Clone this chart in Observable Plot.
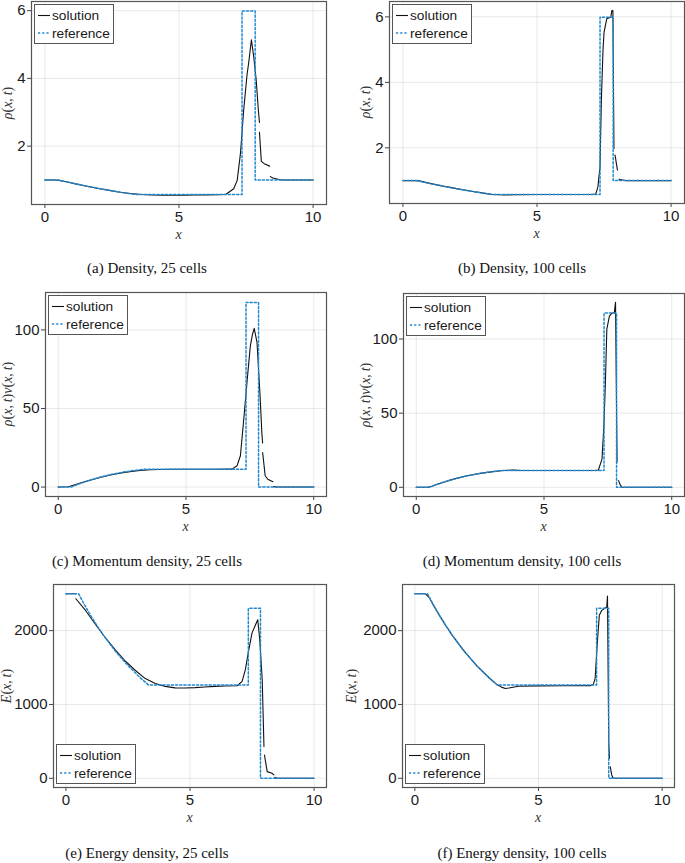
<!DOCTYPE html>
<html><head><meta charset="utf-8">
<script src="https://cdn.jsdelivr.net/npm/d3@7"></script>
<script src="https://cdn.jsdelivr.net/npm/@observablehq/plot@0.6"></script>
<style>
body{margin:0;background:#fff}
#root{position:relative;width:685px;height:863px;overflow:hidden}
.abs{position:absolute}
.math{font-family:"Liberation Serif","DejaVu Serif",serif;font-size:14px;color:#333;white-space:nowrap}
.math i{font-style:italic}
.ylab{transform:translate(-50%,-50%) rotate(-90deg)}
.xlab{transform:translate(-50%,-50%)}
.cap{font-family:"Liberation Serif","Times New Roman",serif;font-size:15px;color:#111;white-space:nowrap;transform:translate(-50%,-50%)}
</style>
</head><body><div id="root"></div>
<script>
// ---- shared axes ----
const xTicks = [0, 5, 10];
const xDomain = [-0.5, 10.5];
const rhoTicks = [2, 4, 6];
const momTicks = [0, 50, 100];
const eTicks = [0, 1000, 2000];

// ---- reference (exact) solution ----
const refX   = [0, 0.51, 0.75, 1.0, 1.25, 1.5, 2.0, 2.5, 3.0, 3.33, 7.35, 7.35, 7.84, 7.84, 10];
const refRho = [1, 1, 0.956, 0.912, 0.870, 0.829, 0.753, 0.681, 0.616, 0.575, 0.575, 5.99, 5.99, 1, 1];
const refMom = [0, 0, 1.59, 3.11, 4.47, 5.70, 7.79, 9.42, 10.64, 11.27, 11.27, 117.5, 117.5, 0, 0];
const refE   = [2500, 2500, 2350, 2203, 2069, 1942, 1719, 1526, 1360, 1263, 1263, 2302, 2302, 0.03, 0.03];

// ---- numerical solution, 25 cells (null = gap between cells) ----
const rho25X = [0, 0.4, 0.8, 1.2, 1.6, 2.0, 2.4, 2.8, 3.2, 3.6, 4.0, 4.4, 4.8, 5.2, 5.6, 6.0, 6.4, 6.74, 7.04, 7.17, 7.29, 7.41, 7.54, 7.6, 7.7, 7.79, 7.88, 7.96, 8.0, 8.0, 8.0, 8.07, 8.2, 8.38, 8.4, 8.41, 8.5, 8.7, 8.85, 10];
const rho25Y = [1, 1.0, 0.95, 0.878, 0.81, 0.75, 0.695, 0.64, 0.6, 0.57, 0.556, 0.55, 0.548, 0.551, 0.556, 0.562, 0.567, 0.572, 0.74, 0.99, 1.77, 3.05, 4.13, 4.47, 5.14, 4.62, 3.94, 3.05, 2.7, null, 2.41, 1.55, 1.47, 1.41, null, 1.1, 1.06, 1.02, 1.0, 1.0];

const mom25X = [0, 0.4, 0.8, 1.2, 1.6, 2.0, 2.4, 2.8, 3.2, 3.6, 4.0, 4.4, 5.0, 6.0, 6.8, 7.0, 7.13, 7.26, 7.4, 7.52, 7.6, 7.67, 7.78, 7.9, 7.97, 8.0, 8.0, 8.0, 8.1, 8.2, 8.4, 8.4, 8.43, 8.6, 10];
const mom25Y = [0, 0.2, 2.3, 4.2, 5.9, 7.5, 8.8, 9.8, 10.5, 11.0, 11.2, 11.3, 11.3, 11.3, 11.4, 13.6, 19.9, 43, 69, 90, 97, 101, 92, 58, 34, 28, null, 22, 7.2, 5, 3.4, null, 0.3, 0.05, 0];

const e25X = [0, 0.4, 0.4, 0.4, 0.8, 1.2, 1.6, 2.0, 2.4, 2.8, 3.2, 3.6, 4.0, 4.4, 4.8, 5.2, 5.6, 6.0, 6.4, 6.9, 7.1, 7.23, 7.37, 7.5, 7.64, 7.73, 7.81, 7.91, 7.98, 8.0, 8.0, 8.11, 8.3, 8.38, 8.4, 8.42, 8.5, 10];
const e25Y = [2500, 2500, null, 2432, 2270, 2080, 1900, 1735, 1585, 1460, 1350, 1285, 1245, 1225, 1222, 1228, 1237, 1245, 1250, 1253, 1313, 1471, 1743, 1970, 2080, 2148, 1877, 1335, 430, null, 315, 90, 68, 45, null, 13, 0, 0];

// ---- numerical solution, 100 cells ----
const rho100X = [0, 0.45, 0.6, 1.0, 1.5, 2.0, 2.5, 3.0, 3.3, 3.6, 3.8, 4.1, 5, 6, 7.0, 7.19, 7.27, 7.35, 7.4, 7.46, 7.5, 7.6, 7.75, 7.79, 7.83, 7.87, 7.89, 7.91, 8.0, 8.02, 8.05, 8.3, 10];
const rho100Y = [1, 1, 0.99, 0.915, 0.83, 0.755, 0.683, 0.618, 0.58, 0.565, 0.56, 0.572, 0.575, 0.575, 0.575, 0.59, 0.8, 1.42, 3.45, 4.97, 5.53, 5.94, 5.99, 6.19, 6.19, 1.98, null, 1.78, 1.32, null, 1.04, 1.0, 1.0];

const mom100X = [0, 0.45, 0.6, 1.0, 1.5, 2.0, 2.5, 3.0, 3.3, 3.6, 3.8, 4.1, 5, 6, 7.0, 7.13, 7.27, 7.34, 7.4, 7.46, 7.56, 7.66, 7.75, 7.8, 7.86, 7.89, 7.92, 7.98, 8.05, 10];
const mom100Y = [0, 0, 0.7, 3.1, 5.7, 7.8, 9.4, 10.6, 11.2, 11.5, 11.6, 11.3, 11.3, 11.3, 11.3, 11.7, 19, 40, 68.5, 106.7, 115.5, 117.5, 117.5, 124.7, 17, null, 4.5, 1.8, 0, 0];

const e100X = [0, 0.42, 0.6, 0.75, 1.0, 1.25, 1.5, 2.0, 2.5, 3.0, 3.3, 3.5, 3.66, 3.8, 4.2, 5, 6, 7.1, 7.22, 7.29, 7.38, 7.46, 7.56, 7.7, 7.76, 7.79, 7.84, 7.87, 7.885, 7.9, 7.96, 8.02, 10];
const e100Y = [2500, 2500, 2440, 2345, 2203, 2069, 1942, 1720, 1527, 1362, 1275, 1235, 1216, 1222, 1247, 1252, 1253, 1255, 1275, 1350, 1847, 2207, 2275, 2306, 2320, 2468, 495, 270, null, 157, 45, 0, 0];

const captions = ["(a) Density, 25 cells", "(b) Density, 100 cells",
  "(c) Momentum density, 25 cells", "(d) Momentum density, 100 cells",
  "(e) Energy density, 25 cells", "(f) Energy density, 100 cells"];
const legendLabels = ["solution", "reference"];

const BLUE = "#2388cf";
const root = document.getElementById("root");

const rhoLab = '<i>ρ</i>(<i>x</i>,&#8201;<i>t</i>)';
const momLab = '<i>ρ</i>(<i>x</i>,&#8201;<i>t</i>)<i>v</i>(<i>x</i>,&#8201;<i>t</i>)';
const eLab = '<i>E</i>(<i>x</i>,&#8201;<i>t</i>)';

const panels = [
  {left:0, top:0, w:330, h:245, mL:31, mR:4, mT:1, mB:41, yDomain:[0.277, 6.27], yTicks:rhoTicks, solX:rho25X, solY:rho25Y, refY:refRho, ylab:rhoLab, ylx:8, legend:"top", cap:0},
  {left:340, top:0, w:345, h:245, mL:49, mR:1, mT:1, mB:42, yDomain:[0.30, 6.47], yTicks:rhoTicks, solX:rho100X, solY:rho100Y, refY:refRho, ylab:rhoLab, ylx:366, legend:"top", cap:1},
  {left:0, top:285, w:330, h:250, mL:45, mR:4, mT:7, mB:39, yDomain:[-6, 123.8], yTicks:momTicks, solX:mom25X, solY:mom25Y, refY:refMom, ylab:momLab, ylx:8, legend:"top", cap:2},
  {left:340, top:285, w:345, h:250, mL:63, mR:1, mT:8, mB:39, yDomain:[-6.2, 130.7], yTicks:momTicks, solX:mom100X, solY:mom100Y, refY:refMom, ylab:momLab, ylx:366, legend:"top", cap:3},
  {left:0, top:575, w:330, h:250, mL:53, mR:4, mT:9, mB:38, yDomain:[-125, 2625], yTicks:eTicks, solX:e25X, solY:e25Y, refY:refE, ylab:eLab, ylx:7, legend:"bottom", cap:4},
  {left:340, top:575, w:345, h:250, mL:62, mR:11, mT:9, mB:38, yDomain:[-125, 2625], yTicks:eTicks, solX:e100X, solY:e100Y, refY:refE, ylab:eLab, ylx:352, legend:"bottom", cap:5}
];
const capY = [268, 268, 561, 561, 853, 853];
const capX = [147, 522, 147, 522, 147, 522];

function add(html, cls, x, y) {
  const d = document.createElement("div");
  d.className = "abs " + cls;
  d.style.left = x + "px"; d.style.top = y + "px";
  d.innerHTML = html;
  root.appendChild(d);
  return d;
}

for (const p of panels) {
  const sol = p.solX.map((x, i) => ({x, y: p.solY[i]}));
  const ref = refX.map((x, i) => ({x, y: p.refY[i]}));
  const svg = Plot.plot({
    width: p.w, height: p.h,
    marginLeft: p.mL, marginRight: p.mR, marginTop: p.mT, marginBottom: p.mB,
    style: {fontFamily: "'Liberation Sans', Arial, sans-serif", fontSize: "15px", color: "#1a1a1a", background: "transparent", overflow: "visible"},
    x: {domain: xDomain},
    y: {domain: p.yDomain},
    marks: [
      Plot.gridX(xTicks, {stroke: "#000", strokeOpacity: 0.09, strokeWidth: 1}),
      Plot.gridY(p.yTicks, {stroke: "#000", strokeOpacity: 0.09, strokeWidth: 1}),
      Plot.axisX(xTicks, {label: null, tickSize: 4, tickPadding: 3, stroke: "#444", fontSize: 15, tickFormat: d => String(d)}),
      Plot.axisY(p.yTicks, {label: null, tickSize: 4, tickPadding: 2, stroke: "#444", fontSize: 15, tickFormat: d => String(d)}),
      Plot.line(sol, {x: "x", y: "y", stroke: "#111", strokeWidth: 1.1}),
      Plot.line(ref, {x: "x", y: "y", stroke: BLUE, strokeWidth: 1.5, strokeDasharray: "2.2,2"}),
      Plot.frame({stroke: "#555", strokeWidth: 1.2})
    ]
  });
  svg.style.position = "absolute";
  svg.style.left = p.left + "px";
  svg.style.top = p.top + "px";
  root.appendChild(svg);

  // axis titles
  const fL = p.left + p.mL, fR = p.left + p.w - p.mR;
  const fT = p.top + p.mT, fB = p.top + p.h - p.mB;
  add('<i>x</i>', 'math xlab', (fL + fR) / 2, fB + 31);
  add(p.ylab, 'math ylab', p.ylx, (fT + fB) / 2);

  // legend box
  const lx = fL + 3, ly = p.legend === "top" ? fT + 3 : fB - 3 - 40;
  const lg = `<svg width="80" height="40" style="display:block">
    <rect x="0.5" y="0.5" width="79" height="39" fill="#fff" stroke="#555" stroke-width="1"/>
    <line x1="4" x2="16" y1="11.5" y2="11.5" stroke="#111" stroke-width="1.1"/>
    <line x1="4" x2="16" y1="29" y2="29" stroke="${BLUE}" stroke-width="1.5" stroke-dasharray="2.2,2"/>
    <text x="18" y="16.2" font-family="'Liberation Sans', Arial, sans-serif" font-size="13.7" fill="#1a1a1a">${legendLabels[0]}</text>
    <text x="18" y="33.8" font-family="'Liberation Sans', Arial, sans-serif" font-size="13.7" fill="#1a1a1a">${legendLabels[1]}</text>
  </svg>`;
  add(lg, '', lx, ly);

  add(captions[p.cap], 'cap', capX[p.cap], capY[p.cap]);
}
</script>
</body></html>
